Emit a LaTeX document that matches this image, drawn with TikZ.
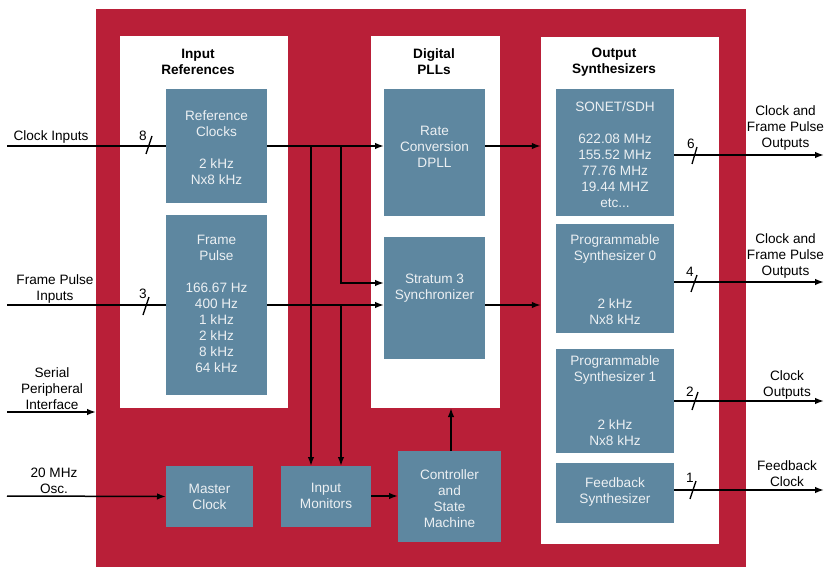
\documentclass[tikz,border=0pt]{standalone}
\usepackage{fontspec}
\setmainfont{Liberation Sans}
\setsansfont{Liberation Sans}
\usetikzlibrary{arrows.meta}
\definecolor{chipred}{RGB}{185,31,56}
\definecolor{boxblue}{RGB}{94,135,160}
\definecolor{boxtext}{RGB}{236,240,243}
\tikzset{
  bbox/.style={fill=boxblue, draw=none, inner sep=0pt, outer sep=0pt},
  panel/.style={fill=white, draw=none, inner sep=0pt},
  btext/.style={text=boxtext, align=center, inner sep=0pt, yshift=-1.5pt, font=\fontsize{13.6}{16}\selectfont},
  ltext/.style={text=black, align=center, inner sep=0pt, yshift=-1.5pt, font=\fontsize{13.6}{16}\selectfont},
  htext/.style={text=black, align=center, inner sep=0pt, yshift=-1pt, font=\bfseries\fontsize{13.6}{16}\selectfont},
  wire/.style={draw=black, line width=1.5pt},
  arr/.style={wire, -{Latex[length=9pt,width=6.5pt]}},
  slashmark/.style={draw=black, line width=1.3pt},
}
\begin{document}
\begin{tikzpicture}[x=1pt,y=-1pt]
\useasboundingbox (0,0) rectangle (824,567);
% background chip
\fill[chipred] (96,9) rectangle (746,567);
% panels
\node[panel, minimum width=168pt, minimum height=372pt] (pin) at (204,222) {};
\node[panel, minimum width=129pt, minimum height=372pt] (ppll) at (435.5,222) {};
\node[panel, minimum width=178pt, minimum height=507pt] (pout) at (630,290.5) {};
% headings
\node[htext] (hin) at (198,61) {Input\\References};
\node[htext] (hpll) at (434,61) {Digital\\PLLs};
\node[htext] (hout) at (614,61) {Output\\Synthesizers};
% blue boxes
\node[bbox, minimum width=101pt, minimum height=114pt] (refclk) at (216.5,146) {};
\node[bbox, minimum width=101pt, minimum height=180pt] (fp) at (216.5,305) {};
\node[bbox, minimum width=101pt, minimum height=127pt] (rc) at (434.5,152.5) {};
\node[bbox, minimum width=101pt, minimum height=122pt] (st) at (434.5,298) {};
\node[bbox, minimum width=118pt, minimum height=127pt] (sonet) at (615,152.5) {};
\node[bbox, minimum width=118pt, minimum height=109pt] (ps0) at (615,278.5) {};
\node[bbox, minimum width=118pt, minimum height=104pt] (ps1) at (615,401) {};
\node[bbox, minimum width=118pt, minimum height=60pt] (fbs) at (615,493) {};
\node[bbox, minimum width=87pt, minimum height=61pt] (mc) at (209.5,496.5) {};
\node[bbox, minimum width=90pt, minimum height=61pt] (im) at (326,496.5) {};
\node[bbox, minimum width=103pt, minimum height=91pt] (ctrl) at (449.5,496.5) {};
% box texts
\node[btext] (trefclk) at (216.5,146) {Reference\\Clocks\\[16pt]2 kHz\\Nx8 kHz};
\node[btext] (tfp) at (216.5,302) {Frame\\Pulse\\[16pt]166.67 Hz\\400 Hz\\1 kHz\\2 kHz\\8 kHz\\64 kHz};
\node[btext] (trc) at (434.5,145) {Rate\\Conversion\\DPLL};
\node[btext] (tst) at (434.5,287) {Stratum 3\\Synchronizer};
\node[btext] (tsonet) at (615,153.5) {SONET/SDH\\[16pt]622.08 MHz\\155.52 MHz\\77.76 MHz\\19.44 MHZ\\etc...};
\node[btext] (tps0) at (615,278) {Programmable\\Synthesizer 0\\[32pt]2 kHz\\Nx8 kHz};
\node[btext] (tps1) at (615,399) {Programmable\\Synthesizer 1\\[32pt]2 kHz\\Nx8 kHz};
\node[btext] (tfbs) at (615,490) {Feedback\\Synthesizer};
\node[btext] (tmc) at (209.5,495) {Master\\Clock};
\node[btext] (tim) at (326,494) {Input\\Monitors};
\node[btext] (tctrl) at (449.5,497) {Controller\\and\\State\\Machine};
% outside labels
\node[ltext] (lci) at (51,135) {Clock Inputs};
\node[ltext] (lfpi) at (55,287) {Frame Pulse\\Inputs};
\node[ltext] (lspi) at (52,387) {Serial\\Peripheral\\Interface};
\node[ltext] (losc) at (54,479) {20 MHz\\Osc.};
\node[ltext] (lo1) at (785.5,126) {Clock and\\Frame Pulse\\Outputs};
\node[ltext] (lo2) at (785.5,254) {Clock and\\Frame Pulse\\Outputs};
\node[ltext] (lo3) at (787,383) {Clock\\Outputs};
\node[ltext] (lo4) at (787,472) {Feedback\\Clock};
% coordinates
\coordinate (ci) at (7,146);
\coordinate (fpi) at (7,305);
\coordinate (spi) at (7,412);
\coordinate (spiend) at (96,412);
\coordinate (osc) at (7,496);
\coordinate (bA) at (311,146);
\coordinate (bB) at (341,146);
\coordinate (bBc) at (341,283);
\coordinate (bC) at (341,305);
\coordinate (o1s) at (674,155);
\coordinate (o1e) at (824,155);
\coordinate (o2s) at (674,282);
\coordinate (o2e) at (824,282);
\coordinate (o3s) at (674,401);
\coordinate (o3e) at (824,401);
\coordinate (o4s) at (674,490);
\coordinate (o4e) at (824,490);
% input wires
\draw[wire] (ci) -- (refclk.west);
\draw[wire] (fpi) -- (fp.west);
\draw[arr] (spi) -- (spiend);
\draw[arr] (osc) -- (mc.west);
% internal wires
\draw[arr] (refclk.east) -- (rc.west |- refclk.east);
\draw[arr] (fp.east) -- (st.west |- fp.east);
\draw[arr] (bA) -- (bA |- im.north);
\draw[arr] (bB) -- (bBc) -- (st.west |- bBc);
\draw[arr] (bC) -- (bC |- im.north);
\draw[arr] (rc.east |- refclk.east) -- (pout.west |- refclk.east);
\draw[arr] (st.east |- fp.east) -- (pout.west |- fp.east);
\draw[arr] (im.east |- osc) -- (ctrl.west |- osc);
\draw[arr] (451,451) -- (451,408);
% output wires
\draw[arr] (o1s) -- (o1e);
\draw[arr] (o2s) -- (o2e);
\draw[arr] (o3s) -- (o3e);
\draw[arr] (o4s) -- (o4e);
% bus slashes and counts
\draw[slashmark] (146,154) -- (152,136);
\node[ltext] (n8) at (143,134) {8};
\draw[slashmark] (143,315) -- (149,297);
\node[ltext] (n3) at (143,292) {3};
\draw[slashmark] (692,164) -- (697,147);
\node[ltext] (n6) at (691,142) {6};
\draw[slashmark] (691,292) -- (697,275);
\node[ltext] (n4) at (690,270) {4};
\draw[slashmark] (692,410) -- (698,392);
\node[ltext] (n2) at (690,390) {2};
\draw[slashmark] (690,499) -- (696,481);
\node[ltext] (n1) at (690,476) {1};
\end{tikzpicture}
\end{document}
